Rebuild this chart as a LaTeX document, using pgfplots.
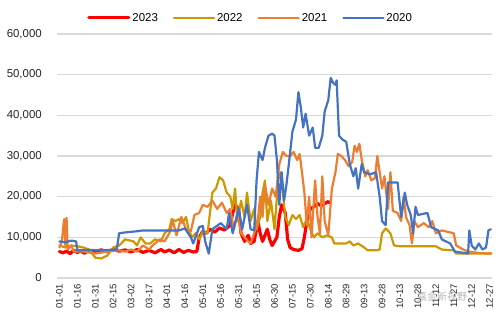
\documentclass[border=0pt]{standalone}
\usepackage{fontspec}
\setmainfont{Liberation Sans}
\newfontfamily\cjk{Noto Sans CJK SC}
\usepackage{pgfplots}
\pgfplotsset{compat=1.18}
\definecolor{c23}{RGB}{255,0,0}
\definecolor{c22}{RGB}{204,153,0}
\definecolor{c21}{RGB}{237,125,49}
\definecolor{c20}{RGB}{68,114,196}
\definecolor{gridc}{RGB}{217,217,217}
\begin{document}
\begin{tikzpicture}
\path (-57bp,-44bp) rectangle (442bp,278bp);
\begin{axis}[
 at={(0,0)}, anchor=south west,
 scale only axis, width=435bp, height=244bp,
 xmin=-2, xmax=362, ymin=0, ymax=60000,
 xtick={0,15,...,360},
 xticklabels={01-01,01-16,01-31,02-15,03-02,03-17,04-01,04-16,05-01,05-16,05-31,06-15,06-30,07-15,07-30,08-14,08-29,09-13,09-28,10-13,10-28,11-12,11-27,12-12,12-27},
 ytick={0,10000,...,60000},
 scaled y ticks=false,
 /pgf/number format/1000 sep={,},
 /pgf/number format/assume math mode=true,
 major tick length=0pt,
 axis line style={draw=none},
 ymajorgrids,
 grid style={gridc, line width=1.2bp},
 yticklabel style={anchor=east, inner sep=0pt, font=\fontsize{11.5}{13}\selectfont, text=black!85},
 yticklabel shift=15bp,
 xticklabel style={rotate=90, anchor=east, inner sep=0pt, font=\fontsize{9.5}{11}\selectfont, text=black!85},
 xticklabel shift=6bp,
 legend columns=4,
 legend style={draw=none, fill=none, at={(0.445,1.066)}, anchor=center,
   font=\fontsize{11.5}{13}\selectfont,
   /tikz/every even column/.append style={column sep=13bp}},
 legend image code/.code={\draw[#1] (0bp,0bp) -- (40bp,0bp);},
 every axis plot/.append style={line join=round, line cap=round},
]
\addplot[c23, line width=3.2bp] coordinates {
(0,6500)(3,6200)(6,6600)(9,6000)(12,6800)(15,6300)(18,6600)(21,6100)(24,6700)(27,6400)(30,6600)(35,6900)(40,6500)(45,7000)(50,6600)(55,6900)(60,6400)(65,7000)(70,6300)(75,6800)(80,6200)(85,7000)(88,6400)(92,6900)(96,6200)(100,7000)(104,6300)(108,6800)(112,6400)(115,6500)(117,10000)(120,11500)(123,11000)(126,12000)(130,11300)(134,12300)(138,11800)(141,12500)(143,13000)(145,16000)(147,18000)(150,17000)(152,11000)(155,9000)(158,10500)(160,8500)(163,9000)(166,14000)(168,11000)(170,9000)(172,10500)(174,12000)(176,9500)(178,8000)(180,9000)(182,10000)(184,15000)(186,18000)(189,16000)(191,9500)(193,7500)(196,7000)(200,6800)(203,7200)(205,10000)(207,14000)(210,17000)(213,17500)(216,18300)(219,17800)(222,18300)(225,18800)(226,18500)
};
\addlegendentry{2023}
\addplot[c22, line width=2.2bp] coordinates {
(0,8000)(5,7500)(10,8000)(15,7800)(20,7500)(25,7000)(30,5000)(35,4800)(40,5500)(45,7500)(50,8000)(55,9500)(62,9000)(65,8000)(68,10000)(72,8500)(76,8500)(80,9500)(85,9000)(88,11000)(92,12000)(94,14500)(97,14000)(100,14500)(103,13500)(106,15000)(108,12000)(111,10000)(114,11000)(117,9500)(120,11500)(124,11000)(126,16000)(128,21000)(131,22000)(134,24800)(137,24000)(140,21000)(143,20000)(145,17000)(147,22000)(149,14000)(152,19000)(155,15000)(157,21000)(160,14000)(163,17000)(165,12000)(168,15000)(170,21000)(172,24000)(174,14000)(177,19000)(180,12000)(183,24000)(185,26000)(187,21000)(189,15000)(192,13000)(195,15500)(198,14500)(201,15500)(204,12500)(207,14500)(210,12000)(213,10000)(216,11000)(220,10000)(224,10500)(228,10000)(230,8500)(235,8500)(240,8500)(243,9000)(246,8000)(250,8500)(255,7500)(258,6800)(265,6800)(268,7000)(270,11000)(273,12200)(277,11000)(280,8000)(285,7800)(300,7800)(315,7800)(320,7000)(330,6800)(332,6000)(364,6000)
};
\addlegendentry{2022}
\addplot[c21, line width=2.2bp] coordinates {
(0,7500)(2,9000)(4,14500)(5,8000)(6,14800)(7,7000)(10,8000)(12,6500)(20,6500)(30,6000)(40,6500)(50,6800)(55,6500)(60,7000)(65,6500)(70,8000)(75,7000)(78,8000)(80,8500)(84,9500)(88,9000)(92,11000)(95,14000)(98,10500)(102,15000)(106,12000)(110,11500)(113,15500)(117,16000)(120,18000)(124,17500)(128,19000)(132,17000)(136,18500)(140,16000)(143,17000)(146,12000)(149,16000)(152,11000)(155,10000)(158,9000)(160,8500)(163,11000)(166,14000)(168,20000)(170,15000)(172,23000)(175,18000)(178,22000)(181,20000)(184,28000)(187,31000)(190,30000)(193,30000)(196,31000)(199,29000)(201,30500)(203,26000)(205,21000)(207,13000)(209,20000)(211,10000)(214,24000)(216,15000)(218,11000)(220,25000)(222,14000)(225,10500)(228,22000)(231,26000)(233,30500)(236,30000)(239,29000)(242,27500)(245,28500)(247,32500)(249,31000)(251,33000)(253,29000)(256,25000)(258,26500)(261,24000)(264,24500)(266,30000)(268,26000)(270,22000)(272,25000)(275,17000)(277,26000)(279,16500)(283,16000)(286,14000)(288,20000)(290,15000)(293,13000)(295,8500)(297,14000)(300,12500)(305,13500)(309,12500)(312,14000)(315,11000)(320,11700)(330,11000)(332,8000)(338,7000)(342,6500)(350,6200)(358,6000)(361,6000)
};
\addlegendentry{2021}
\addplot[c20, line width=2.2bp] coordinates {
(0,9000)(5,8800)(10,9200)(14,9000)(15,6800)(25,6900)(35,6800)(48,7000)(50,11000)(55,11200)(65,11500)(70,11700)(100,11700)(105,12200)(110,10000)(112,8500)(117,12500)(120,12800)(122,9000)(125,6000)(128,12000)(135,13500)(140,12000)(142,16000)(145,11000)(150,17000)(153,12000)(157,18000)(160,12000)(163,11700)(165,24000)(167,31000)(170,29000)(172,32000)(175,35000)(178,35500)(180,35000)(182,29000)(184,18000)(186,26000)(188,19000)(190,23000)(192,28000)(195,36000)(198,39000)(200,45700)(202,42000)(204,37000)(206,40400)(209,35000)(212,37000)(214,32000)(217,32000)(220,35000)(222,41000)(225,43700)(227,49200)(229,48000)(231,47500)(232,48600)(234,35000)(237,34000)(240,33500)(243,28000)(246,25000)(248,27000)(250,22000)(253,28000)(255,26000)(260,25500)(265,26000)(268,20000)(270,14000)(273,13000)(275,23500)(283,23500)(286,15000)(289,21000)(291,18000)(294,15500)(296,11000)(298,17500)(300,15500)(308,16000)(311,12500)(317,11700)(320,9500)(327,8500)(331,6500)(342,6000)(343,11700)(345,8000)(348,7000)(351,8500)(354,7000)(357,7500)(359,11700)(361,12000)
};
\addlegendentry{2020}
\end{axis}
\node[anchor=west, text=black!40, opacity=0.7, font=\cjk\fontsize{10}{12}\selectfont, inner sep=0pt] at (360bp,-19bp) {嘉金新视野};
\end{tikzpicture}
\end{document}
